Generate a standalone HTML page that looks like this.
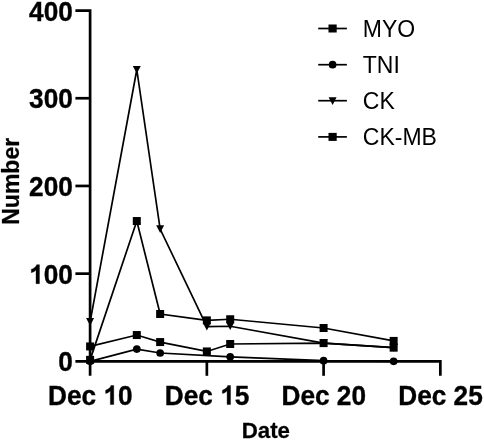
<!DOCTYPE html>
<html><head><meta charset="utf-8"><style>
html,body{margin:0;padding:0;background:#fff;}
svg{display:block;will-change:transform;}
text{font-family:"Liberation Sans",sans-serif;}
</style></head><body>
<svg width="484" height="441" viewBox="0 0 484 441">
<rect width="484" height="441" fill="#fff"/>
<g fill="none" stroke="#000" stroke-width="1.7" stroke-linejoin="miter">
<polyline points="90.10,359.86 136.80,221.03 160.15,313.99 206.85,320.39 230.20,319.25 323.60,328.02 393.65,340.92"/>
<polyline points="90.10,346.44 136.80,335.04 160.15,342.06 206.85,351.44 230.20,343.99 323.60,343.11 393.65,347.67"/>
<polyline points="90.10,361.35 136.80,349.07 160.15,353.02 230.20,356.79 323.60,360.65 393.65,361.35"/>
<polyline points="90.10,321.88 136.80,69.75 160.15,229.10 206.85,326.71 230.20,326.27 323.60,343.11 393.65,347.67"/>
</g>
<g fill="#000">
<path d="M86.10,318.03H94.10L90.10,325.74Z"/><path d="M132.80,65.90H140.80L136.80,73.60Z"/><path d="M156.15,225.25H164.15L160.15,232.95Z"/><path d="M202.85,322.86H210.85L206.85,330.56Z"/><path d="M226.20,322.42H234.20L230.20,330.12Z"/><path d="M319.60,339.26H327.60L323.60,346.96Z"/><path d="M389.65,343.82H397.65L393.65,351.52Z"/><rect x="86.10" y="355.86" width="8.0" height="8.0"/><rect x="132.80" y="217.03" width="8.0" height="8.0"/><rect x="156.15" y="309.99" width="8.0" height="8.0"/><rect x="202.85" y="316.39" width="8.0" height="8.0"/><rect x="226.20" y="315.25" width="8.0" height="8.0"/><rect x="319.60" y="324.02" width="8.0" height="8.0"/><rect x="389.65" y="336.92" width="8.0" height="8.0"/><rect x="86.10" y="342.44" width="8.0" height="8.0"/><rect x="132.80" y="331.04" width="8.0" height="8.0"/><rect x="156.15" y="338.06" width="8.0" height="8.0"/><rect x="202.85" y="347.44" width="8.0" height="8.0"/><rect x="226.20" y="339.99" width="8.0" height="8.0"/><rect x="319.60" y="339.11" width="8.0" height="8.0"/><rect x="389.65" y="343.67" width="8.0" height="8.0"/><circle cx="90.10" cy="361.35" r="3.85"/><circle cx="136.80" cy="349.07" r="3.85"/><circle cx="160.15" cy="353.02" r="3.85"/><circle cx="230.20" cy="356.79" r="3.85"/><circle cx="323.60" cy="360.65" r="3.85"/><circle cx="393.65" cy="361.35" r="3.85"/>
</g>
<g stroke="#000" stroke-width="2.7" fill="none">
<path d="M75.4,10.55H90.1V375.8" stroke-linejoin="miter"/>
<path d="M75.4,361.35H440.35V375.8" stroke-linejoin="miter"/>
<line x1="75.4" y1="273.65" x2="90.1" y2="273.65"/><line x1="75.4" y1="185.95" x2="90.1" y2="185.95"/><line x1="75.4" y1="98.25" x2="90.1" y2="98.25"/><line x1="206.85" y1="361.35" x2="206.85" y2="375.8"/><line x1="323.60" y1="361.35" x2="323.60" y2="375.8"/>
</g>
<g fill="#000" stroke="#000" stroke-width="0.35" font-size="26.2" font-weight="bold">
<g transform="translate(0,371.35) scale(1,1.03)"><text x="58.23" y="0" xml:space="preserve">0</text></g><g transform="translate(0,283.65) scale(1,1.03)"><path d="M39.46,0.00 L36.03,0.00 L36.03,-13.36 L34.72,-12.16 L33.17,-11.27 L31.31,-10.69 L31.31,-13.89 L32.26,-14.20 L33.28,-14.72 L34.38,-15.54 L35.48,-16.38 L36.24,-17.34 L36.63,-18.47 L39.46,-18.47Z"/><text x="43.66" y="0" xml:space="preserve">00</text></g><g transform="translate(0,195.95) scale(1,1.03)"><text x="29.09" y="0" xml:space="preserve">200</text></g><g transform="translate(0,108.25) scale(1,1.03)"><text x="29.09" y="0" xml:space="preserve">300</text></g><g transform="translate(0,20.55) scale(1,1.03)"><text x="29.09" y="0" xml:space="preserve">400</text></g><g transform="translate(0,404.50) scale(1,1.03)"><text x="48.06" y="0" xml:space="preserve">Dec </text><path d="M113.78,0.00 L110.34,0.00 L110.34,-13.36 L109.03,-12.16 L107.49,-11.27 L105.63,-10.69 L105.63,-13.89 L106.57,-14.20 L107.59,-14.72 L108.69,-15.54 L109.79,-16.38 L110.55,-17.34 L110.95,-18.47 L113.78,-18.47Z"/><text x="117.97" y="0" xml:space="preserve">0</text></g><g transform="translate(0,404.50) scale(1,1.03)"><text x="164.81" y="0" xml:space="preserve">Dec </text><path d="M230.53,0.00 L227.09,0.00 L227.09,-13.36 L225.78,-12.16 L224.24,-11.27 L222.38,-10.69 L222.38,-13.89 L223.32,-14.20 L224.34,-14.72 L225.44,-15.54 L226.54,-16.38 L227.30,-17.34 L227.70,-18.47 L230.53,-18.47Z"/><text x="234.72" y="0" xml:space="preserve">5</text></g><g transform="translate(0,404.50) scale(1,1.03)"><text x="281.56" y="0" xml:space="preserve">Dec 20</text></g><g transform="translate(0,404.50) scale(1,1.03)"><text x="398.31" y="0" xml:space="preserve">Dec 25</text></g>
</g>
<text transform="translate(265.8,437.9) scale(1,1.03)" font-size="22.3" font-weight="bold" stroke="#000" stroke-width="0.25" text-anchor="middle">Date</text>
<text transform="translate(18.6,181.3) rotate(-90)" font-size="23" font-weight="bold" stroke="#000" stroke-width="0.25" text-anchor="middle">Number</text>
<g fill="#000"><line x1="318.2" y1="28.5" x2="346.9" y2="28.5" stroke="#000" stroke-width="1.7"/><rect x="328.5" y="24.5" width="8.2" height="8.0"/><text transform="translate(362.8,36.60) scale(1,1.01)" font-size="23" font-weight="normal">MYO</text><line x1="318.2" y1="64.7" x2="346.9" y2="64.7" stroke="#000" stroke-width="1.7"/><circle cx="332.6" cy="64.7" r="3.85"/><text transform="translate(362.8,72.80) scale(1,1.01)" font-size="23" font-weight="normal">TNI</text><line x1="318.2" y1="100.7" x2="346.9" y2="100.7" stroke="#000" stroke-width="1.7"/><path d="M328.6,97.2H336.6L332.6,105.0Z"/><text transform="translate(362.8,108.80) scale(1,1.01)" font-size="23" font-weight="normal">CK</text><line x1="318.2" y1="136.9" x2="346.9" y2="136.9" stroke="#000" stroke-width="1.7"/><rect x="328.5" y="132.9" width="8.2" height="8.0"/><text transform="translate(362.8,145.00) scale(1,1.01)" font-size="23" font-weight="normal">CK-MB</text></g>
</svg>
</body></html>
